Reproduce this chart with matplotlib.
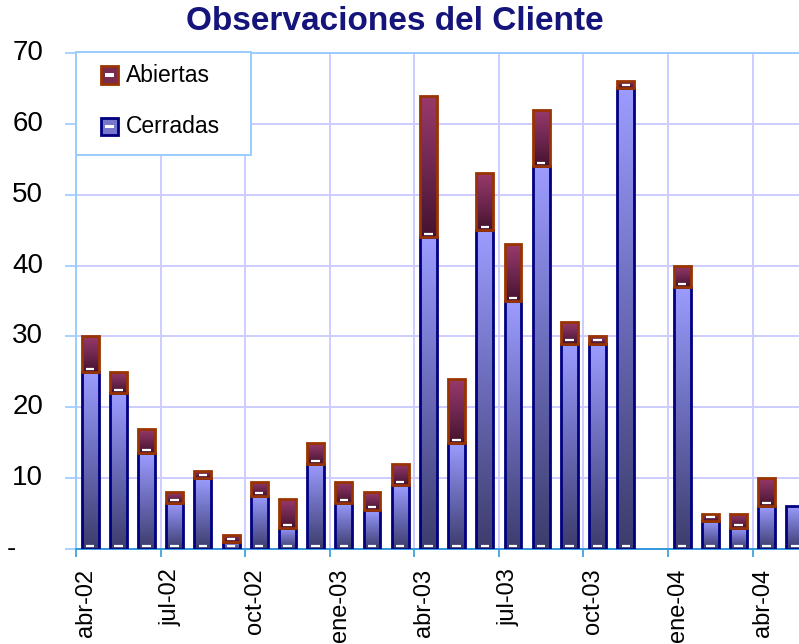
import numpy as np
import matplotlib
matplotlib.use("Agg")
import matplotlib.pyplot as plt
from matplotlib.colors import LinearSegmentedColormap
from matplotlib.patches import Rectangle
from matplotlib.transforms import blended_transform_factory, ScaledTranslation

plt.rcParams['font.family'] = ['Liberation Sans', 'DejaVu Sans']

# Datos
meses = ['abr-02', 'may-02', 'jun-02', 'jul-02', 'ago-02', 'sep-02', 'oct-02',
         'nov-02', 'dic-02', 'ene-03', 'feb-03', 'mar-03', 'abr-03', 'may-03',
         'jun-03', 'jul-03', 'ago-03', 'sep-03', 'oct-03', 'nov-03', 'dic-03',
         'ene-04', 'feb-04', 'mar-04', 'abr-04', 'may-04']
cerradas = [25, 22, 13.5, 6.5, 10, 1, 7.5, 3, 12, 6.5, 5.5, 9,
            44, 15, 45, 35, 54, 29, 29, 65, 0, 37, 4, 3, 6, 6]
abiertas = [5, 3, 3.5, 1.5, 1, 1, 2, 4, 3, 3, 2.5, 3,
            20, 9, 8, 8, 8, 3, 1, 1, 0, 3, 1, 2, 4, 0]
yticks = [0, 10, 20, 30, 40, 50, 60, 70]
ylabels = ['-', '10', '20', '30', '40', '50', '60', '70']

W, H = 799, 644

def px(x, y):
    # pixel (desde arriba-izquierda) -> fraccion de figura
    return x / W, 1 - y / H

cmap_cer = LinearSegmentedColormap.from_list('cer', ['#3c3c6c', '#6a6ab8', '#9c9cff'])
cmap_abi = LinearSegmentedColormap.from_list('abi', ['#45122e', '#702850', '#9a3a6a'])
grad = np.linspace(0, 1, 256).reshape(-1, 1)


def gradient_bars(ax, bars, cmap, edge):
    for b in bars:
        h = b.get_height()
        if h <= 0:
            b.set_visible(False)
            continue
        x0 = b.get_x()
        w = b.get_width()
        y0 = b.get_y()
        img = ax.imshow(grad, extent=[x0, x0 + w, y0, y0 + h], origin='lower',
                        aspect='auto', cmap=cmap, zorder=2, interpolation='bilinear')
        img.set_clip_path(b)
        # brillo blanco en la base del segmento
        ax.plot([x0 + w * 0.25, x0 + w * 0.75], [y0 + 0.45, y0 + 0.45],
                color='white', lw=1.6, zorder=4, solid_capstyle='butt')


fig = plt.figure(figsize=(W / 100, H / 100), dpi=100)
left, bottom = px(76, 549)
right, top = px(809, 53)
ax = fig.add_axes([left, bottom, right - left, top - bottom])

x = np.arange(len(meses))
bw = 0.6
b1 = ax.bar(x, cerradas, width=bw, facecolor='none', edgecolor='#000080',
            linewidth=2.0, zorder=3)
b2 = ax.bar(x, abiertas, width=bw, bottom=cerradas, facecolor='none',
            edgecolor='#993300', linewidth=2.0, zorder=3)
gradient_bars(ax, b1, cmap_cer, '#000080')
gradient_bars(ax, b2, cmap_abi, '#993300')

ax.set_xlim(-0.5, len(meses) - 0.5)
ax.set_ylim(0, 70)

# ejes y rejilla
ax.set_yticks(yticks)
ax.set_yticklabels([])
ax.tick_params(axis='y', length=8, width=1.2, color='#99ccff', direction='out')
ax.set_xticks(np.arange(-0.5, len(meses), 3))
ax.set_xticklabels([])
ax.set_xticks(x[::3], minor=True)
ax.set_xticklabels(meses[::3], minor=True, rotation=90, fontsize=17)
ax.tick_params(axis='x', which='major', length=6, width=1.2, color='#3399dd', direction='out')
ax.tick_params(axis='x', which='minor', length=0, pad=14)
for lbl in ax.get_xticklabels(minor=True):
    lbl.set_transform(lbl.get_transform() + ScaledTranslation(-3 / 72, 0, fig.dpi_scale_trans))

ax.grid(True, which='major', color='#ccccff', linewidth=1.4, zorder=0)
ax.set_axisbelow(True)
for s in ['left', 'top', 'right']:
    ax.spines[s].set_color('#99ccff')
    ax.spines[s].set_linewidth(1.4)
ax.spines['bottom'].set_color('#3399dd')
ax.spines['bottom'].set_linewidth(1.4)

# etiquetas del eje y
tr = blended_transform_factory(fig.transFigure, ax.transData)
for v, t in zip(yticks, ylabels):
    if t == '-':
        ax.text(7 / W, v, t, transform=tr, ha='left', va='center', fontsize=20)
    else:
        ax.text(43 / W, v, t, transform=tr, ha='right', va='center', fontsize=20)

# leyenda
lx0, ly0 = px(76, 155)
lx1, ly1 = px(251, 52)
fig.patches.append(Rectangle((lx0, ly0), lx1 - lx0, ly1 - ly0, transform=fig.transFigure,
                             facecolor='white', edgecolor='#99ccff', linewidth=1.4, zorder=5))
for name, yc, fc, ec in [('Abiertas', 75, '#7a2a50', '#993300'),
                         ('Cerradas', 126.5, '#7777cc', '#000080')]:
    mx, my = px(101, yc + 8.5)
    fig.patches.append(Rectangle((mx, my), 17 / W, 17 / H, transform=fig.transFigure,
                                 facecolor=fc, edgecolor=ec, linewidth=2.0, zorder=6))
    wx, wy = px(105, yc + 1.5)
    fig.patches.append(Rectangle((wx, wy), 9 / W, 3 / H, transform=fig.transFigure,
                                 facecolor='white', edgecolor='none', zorder=7))
    tx, ty = px(126, yc)
    fig.text(tx, ty, name, ha='left', va='center', fontsize=16.5, zorder=8)

tx, ty = px(395, 22)
fig.text(tx, ty, 'Observaciones del Cliente', ha='center', va='center',
         fontsize=24, fontweight='bold', color='#14147a')

fig.savefig('out.png', dpi=100)
